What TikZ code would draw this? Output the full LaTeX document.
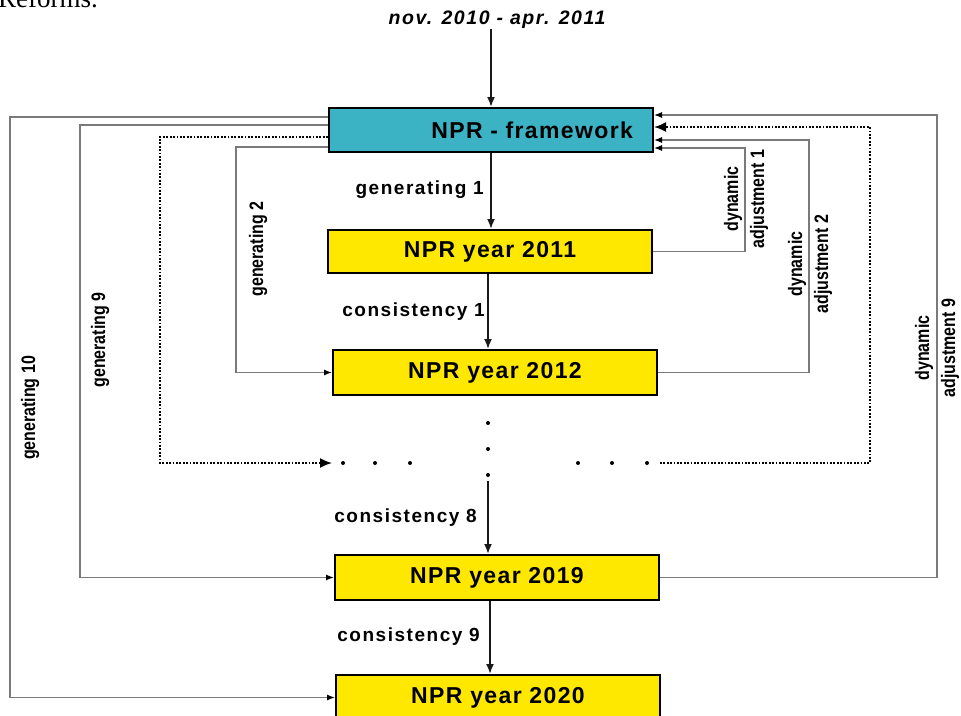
\documentclass[tikz,border=0pt]{standalone}
\usepackage{fontspec}
\usepackage{graphicx}
\setmainfont{Liberation Sans}
\newfontfamily\spacedfont[LetterSpace=8]{Liberation Sans}
\newfontfamily\boxfont[LetterSpace=6]{Liberation Sans}
\newfontfamily\serifpart{Liberation Serif}
\usetikzlibrary{arrows.meta,positioning}
\definecolor{frameteal}{HTML}{3BB3C4}
\definecolor{yearyellow}{HTML}{FFE800}
\definecolor{feedgray}{HTML}{7A7A7A}
\newcommand{\sidetext}[1]{\scalebox{0.82}[1]{\begin{tabular}{@{}c@{}}#1\end{tabular}}}
\tikzset{
  yearbox/.style={draw=black, line width=2pt, fill=yearyellow, minimum width=324pt, minimum height=45pt, inner sep=0pt, font=\boxfont\bfseries\fontsize{23}{25}\selectfont},
  fwbox/.style={yearbox, fill=frameteal, minimum height=44pt, inner xsep=20pt, text width=284pt, align=right},
  titletext/.style={font=\spacedfont\bfseries\itshape\fontsize{19.5}{22}\selectfont, inner sep=0pt},
  steplabel/.style={font=\spacedfont\bfseries\fontsize{19}{21}\selectfont, anchor=east, inner sep=0pt},
  sidelabel/.style={rotate=90, inner sep=0pt, font=\bfseries\fontsize{19.5}{26}\selectfont},
  flow/.style={black!90, line width=1.8pt, -{Latex[length=10pt,width=8pt]}},
  feed/.style={feedgray, line width=1.2pt, -{Latex[length=8pt,width=6pt,color=black]}},
  dotflow/.style={black, line width=1.8pt, dash pattern=on 1.8pt off 1.6pt, -{Latex[length=12pt,width=10pt]}}
}
\begin{document}
\begin{tikzpicture}[x=1pt,y=-1pt]
  \useasboundingbox (0,0) rectangle (961,715);
  \clip (0,0) rectangle (961,715);
  \node[font=\serifpart\fontsize{27}{30}\selectfont, anchor=base west, inner sep=0pt] (reforms) at (-2,7) {Reforms.};
  \node[titletext] (period) at (497,20) {nov. 2010 - apr. 2011};

  \node[fwbox] (fw) at (491,130) {NPR - framework};
  \node[yearbox, minimum height=43pt] (y2011) at (490,251.5) {NPR year 2011};
  \node[yearbox] (y2012) at (495,372.5) {NPR year 2012};
  \node[yearbox] (y2019) at (497,577.5) {NPR year 2019};
  \node[yearbox] (y2020) at (498,697.5) {NPR year 2020};

  % main chain
  \draw[flow] (period.south -| fw.north) -- (fw.north);
  \draw[flow] (fw.south) -- (fw.south |- y2011.north);
  \draw[flow] ([xshift=-2pt]y2011.south) -- ([xshift=-2pt]y2011.south |- y2012.north);
  \foreach \y in {423,449,475} \fill (488,\y) circle (2);
  \coordinate (gapend) at (488,481);
  \draw[flow] (gapend) -- (gapend |- y2019.north);
  \draw[flow] ([xshift=-7pt]y2019.south) -- ([xshift=-7pt]y2019.south |- y2020.north);

  \node[steplabel] (g1) at (484,190) {generating 1};
  \node[steplabel] (c1) at (485,312) {consistency 1};
  \node[steplabel] (c8) at (477,518) {consistency 8};
  \node[steplabel] (c9) at (480,637) {consistency 9};

  % generating paths
  \coordinate (dotsL) at (332,463);
  \coordinate (dotsR) at (660,463);
  \foreach \x in {343,375,410,578,612,647} \fill (\x,463) circle (2);
  \draw[feed] (fw.west |- 0,117) -- (10,117) |- (y2020.west);
  \draw[feed] (fw.west |- 0,125) -- (80,125) |- (y2019.west);
  \draw[dotflow] (fw.west |- 0,137) -- (160,137) |- (dotsL);
  \draw[feed] (fw.west |- 0,147) -- (236,147) |- (y2012.west);

  % dynamic adjustments
  \draw[feed] (y2011.east) -| (745,148) -- (fw.east |- 0,148);
  \draw[feed] (y2012.east) -| (809,140) -- (fw.east |- 0,140);
  \draw[feed] (y2019.east) -| (937,115) -- (fw.east |- 0,115);
  \draw[dotflow] (dotsR) -| (870,127) -- (fw.east |- 0,127);

  \node[sidelabel] (g10) at (30,408) {\sidetext{generating 10}};
  \node[sidelabel] (g9) at (100,340) {\sidetext{generating 9}};
  \node[sidelabel] (g2) at (258,249) {\sidetext{generating 2}};
  \node[sidelabel] (d1) at (746,199) {\sidetext{dynamic\\adjustment 1}};
  \node[sidelabel] (d2) at (810,264) {\sidetext{dynamic\\adjustment 2}};
  \node[sidelabel] (d9) at (937,348) {\sidetext{dynamic\\adjustment 9}};
\end{tikzpicture}
\end{document}
